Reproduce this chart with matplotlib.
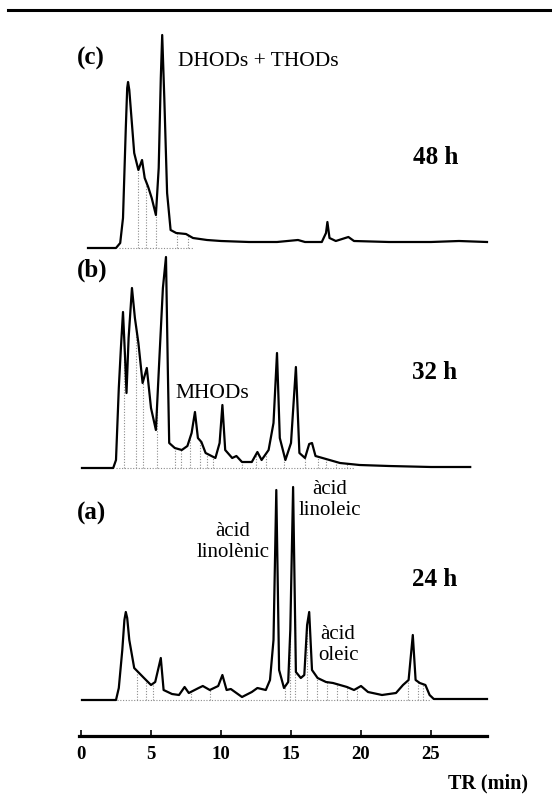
import numpy as np
import matplotlib
matplotlib.use("Agg")
import matplotlib.pyplot as plt
from matplotlib.lines import Line2D

plt.rcParams['font.family'] = ['Liberation Serif', 'DejaVu Serif']

# ---------------- data (retention time in min, detector response a.u.) ----------------
t_c = [0.5, 2.5, 2.8, 3.0, 3.2, 3.3, 3.36, 3.45, 3.55, 3.8, 4.1, 4.36, 4.55, 4.8, 5.05, 5.35, 5.55, 5.7,
       5.8, 5.95, 6.15, 6.4, 6.8, 7.5, 8.0, 9.0, 10.0, 12.0, 14.0, 15.5, 16.0, 17.2, 17.5, 17.6,
       17.75, 18.2, 19.1, 19.5, 22.0, 25.0, 27.0, 29.0]
y_c = [0, 0, 5, 30, 120, 160, 166, 158, 140, 95, 78, 88, 70, 61, 50, 33, 80, 170,
       213, 150, 55, 18, 15, 14, 10, 8, 7, 6, 6, 8, 6, 6, 15, 26,
       10, 7, 11, 7, 6, 6, 7, 6]

t_b = [0.07, 2.3, 2.5, 2.7, 2.85, 3.0, 3.15, 3.25, 3.4, 3.64, 3.85, 4.1, 4.4, 4.7, 5.0, 5.35,
       5.6, 5.85, 6.07, 6.2, 6.3, 6.7, 7.2, 7.6, 7.9, 8.14, 8.35, 8.6, 8.9, 9.6, 9.9, 10.1,
       10.3, 10.8, 11.1, 11.5, 12.2, 12.6, 12.9, 13.4, 13.75, 14.0, 14.2, 14.6, 15.0, 15.35,
       15.6, 16.0, 16.3, 16.5, 16.75, 17.5, 18.5, 19.9, 22.0, 25.0, 27.8]
y_b = [0, 0, 8, 80, 120, 156, 110, 75, 130, 180, 150, 125, 85, 100, 60, 38,
       110, 180, 211, 100, 25, 20, 18, 22, 35, 56, 30, 26, 15, 10, 25, 63,
       18, 10, 12, 6, 6, 16, 8, 18, 45, 115, 30, 8, 25, 101,
       15, 10, 24, 25, 12, 9, 5, 3, 2, 1, 1]

t_a = [0.07, 2.5, 2.7, 2.95, 3.1, 3.2, 3.3, 3.45, 3.8, 4.5, 5.0, 5.3, 5.7, 5.9, 6.5, 7.0, 7.4, 7.7,
       8.4, 8.7, 9.2, 9.8, 10.1, 10.4, 10.7, 11.5, 12.2, 12.6, 13.2, 13.5, 13.75, 13.95, 14.15,
       14.5, 14.8, 14.95, 15.15, 15.35, 15.7, 15.95, 16.15, 16.3, 16.5, 16.9, 17.5, 18.0, 19.0,
       19.5, 20.0, 20.5, 21.5, 22.5, 23.0, 23.4, 23.7, 23.9, 24.2, 24.6, 24.9, 25.2, 29.0]
y_a = [0, 0, 12, 50, 80, 88, 82, 60, 32, 22, 15, 18, 42, 10, 6, 5, 13, 7,
       12, 14, 10, 14, 25, 10, 11, 3, 8, 12, 10, 20, 60, 210, 30,
       12, 18, 70, 213, 28, 22, 25, 75, 88, 30, 22, 18, 17, 13,
       10, 14, 8, 5, 7, 15, 20, 65, 20, 17, 15, 5, 1, 1]

# integration drop lines (retention times)
drops_c = [4.07, 4.64, 5.36, 6.86, 7.64]
drops_b = [3.07, 3.93, 4.43, 5.43, 6.71, 7.14, 7.79, 8.5, 9.0, 9.43, 11.5, 12.5, 13.2,
           14.5, 16.0, 16.9, 17.5, 18.2, 19.0]
drops_a = [4.0, 4.64, 5.14, 7.86, 9.2, 14.57, 14.93, 15.29, 16.14, 16.86, 17.57, 18.29,
           19.0, 19.71, 23.36, 24.07, 24.43]

xticks = [0, 5, 10, 15, 20, 25]
xlabel = "TR (min)"

# ---------------- layout helpers ----------------
W, H = 552, 794
fig = plt.figure(figsize=(W / 100, H / 100), dpi=100)


def rect(left, top, right, bottom):
    return [left / W, 1 - bottom / H, (right - left) / W, (bottom - top) / H]


def fx(px):
    return px / W


def fy(py):
    return 1 - py / H


# top rule
fig.add_artist(Line2D([fx(8), 1.0], [fy(10), fy(10)], color='black', lw=2.2))

XL = (-1, 30)


def trace_axes(top, bottom, t, y, drops, x0, x1):
    ax = fig.add_axes(rect(67, top, 501, bottom))
    ax.set_xlim(*XL)
    ax.set_ylim(-12, 228)
    ax.axis('off')
    ax.patch.set_alpha(0)
    t = np.asarray(t, float)
    y = np.asarray(y, float)
    # integration baseline
    ax.plot([x0, x1], [0, 0], color='0.55', lw=0.8, ls=(0, (1, 1.5)))
    for d in drops:
        h = np.interp(d, t, y)
        ax.plot([d, d], [0, h], color='0.55', lw=0.8, ls=(0, (1, 1.5)))
    ax.plot(t, y, color='black', lw=1.6, solid_joinstyle='round')
    return ax


trace_axes(20, 260, t_c, y_c, drops_c, 2.7, 8.0)
trace_axes(240, 480, t_b, y_b, drops_b, 2.5, 19.5)
trace_axes(472, 712, t_a, y_a, drops_a, 2.6, 25.0)

# bottom time axis
axb = fig.add_axes(rect(79, 730, 487, 736))
axb.set_xlim((79 - 81) / 14, (487 - 81) / 14)
axb.set_ylim(0, 1)
axb.patch.set_alpha(0)
for s in ['top', 'left', 'right']:
    axb.spines[s].set_visible(False)
axb.spines['bottom'].set_linewidth(2.3)
axb.set_yticks([])
axb.set_xticks(xticks)
axb.set_xticklabels([str(v) for v in xticks], fontweight='bold', fontsize=13.5)
axb.tick_params(axis='x', direction='in', length=4, width=1.2, pad=7)

# texts
bold = dict(fontweight='bold')
fig.text(fx(77), fy(58), "(c)", fontsize=18, ha='left', va='center', **bold)
fig.text(fx(77), fy(270), "(b)", fontsize=18, ha='left', va='center', **bold)
fig.text(fx(77), fy(513), "(a)", fontsize=18, ha='left', va='center', **bold)

fig.text(fx(413), fy(157), "48 h", fontsize=18, ha='left', va='center', **bold)
fig.text(fx(412), fy(373), "32 h", fontsize=18, ha='left', va='center', **bold)
fig.text(fx(412), fy(580), "24 h", fontsize=18, ha='left', va='center', **bold)

fig.text(fx(178), fy(62), "DHODs + THODs", fontsize=15.5, ha='left', va='center')
fig.text(fx(175), fy(394), "MHODs", fontsize=15.5, ha='left', va='center')
fig.text(fx(233), fy(542), "àcid\nlinolènic", fontsize=15, ha='center', va='center', linespacing=1.15)
fig.text(fx(330), fy(500), "àcid\nlinoleic", fontsize=15, ha='center', va='center', linespacing=1.15)
fig.text(fx(338), fy(645), "àcid\noleic", fontsize=15, ha='center', va='center', linespacing=1.15)

fig.text(fx(528), fy(783), xlabel, fontsize=14.5, ha='right', va='center', **bold)

fig.savefig("out.png", dpi=100)
